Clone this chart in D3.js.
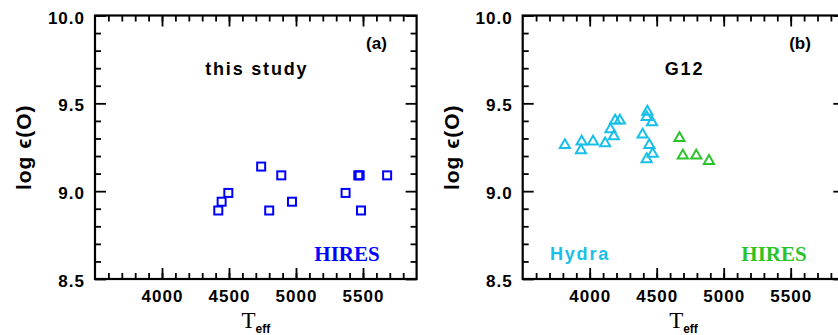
<!DOCTYPE html>
<html>
<head>
<meta charset="utf-8">
<script src="https://cdn.jsdelivr.net/npm/d3@7"></script>
<style>
body { margin: 0; background: #fff; }
svg { display: block; }
.tick text { font-family: "Liberation Sans", Arial, sans-serif; font-weight: bold; font-size: 17px; letter-spacing: 1px; fill: #000; }
.tick line { stroke: #000; stroke-width: 1.8; }
</style>
</head>
<body>
<script>
// panel (a): this study, HIRES
var hiresA_teff = [4420, 4445, 4495, 4740, 4800, 4890, 4970, 5370, 5465, 5475, 5485, 5680];
var hiresA_logO = [8.89, 8.94, 8.99, 9.14, 8.89, 9.09, 8.94, 8.99, 9.09, 9.09, 8.89, 9.09];

// panel (b): G12, Hydra + HIRES
var hydraB_teff = [3815, 3940, 3935, 4025, 4115, 4180, 4155, 4190, 4225, 4395, 4430, 4425, 4465, 4445, 4470, 4425];
var hydraB_logO = [9.27, 9.29, 9.24, 9.29, 9.28, 9.32, 9.36, 9.41, 9.41, 9.33, 9.46, 9.43, 9.40, 9.27, 9.22, 9.19];
var hiresB_teff = [4670, 4695, 4795, 4890];
var hiresB_logO = [9.31, 9.21, 9.21, 9.18];

// axes
var xDomain = [3500, 5900];
var yDomain = [8.5, 10.0];
var xMajor = [4000, 4500, 5000, 5500];
var xMinor = d3.range(3600, 5900, 100);
var yMajor = [8.5, 9.0, 9.5, 10.0];
var yMinor = [8.6, 8.7, 8.8, 8.9, 9.1, 9.2, 9.3, 9.4, 9.6, 9.7, 9.8, 9.9];

var blue = "#0000ff", cyan = "#18bfe8", green = "#2cc22c";

var svg = d3.select("body").append("svg")
    .attr("width", 838)
    .attr("height", 335);

var top_ = 15.5, bottom = 279, pw = 321.6;

function zip(xs, ys) {
    return xs.map(function (d, i) { return { t: d, o: ys[i] }; });
}

function drawPanel(left, label, tag, tagX) {
    var x = d3.scaleLinear().domain(xDomain).range([left, left + pw]);
    var y = d3.scaleLinear().domain(yDomain).range([bottom, top_]);
    var g = svg.append("g");

    // ticks, all pointing inward
    function ax(a, tr, vals, len, fmt, pad) {
        var s = g.append("g")
            .attr("transform", tr)
            .call(a.tickValues(vals).tickSize(-len).tickPadding(pad || 0).tickFormat(fmt || ""));
        s.select(".domain").remove();
        return s;
    }
    ax(d3.axisBottom(x), "translate(0," + bottom + ")", xMinor, 6);
    ax(d3.axisTop(x), "translate(0," + top_ + ")", xMinor, 6);
    ax(d3.axisLeft(y), "translate(" + left + ",0)", yMinor, 6);
    ax(d3.axisRight(y), "translate(" + (left + pw) + ",0)", yMinor, 6);
    ax(d3.axisTop(x), "translate(0," + top_ + ")", xMajor, 11);
    ax(d3.axisRight(y), "translate(" + (left + pw) + ",0)", yMajor, 11);
    ax(d3.axisBottom(x), "translate(0," + bottom + ")", xMajor, 11, d3.format("d"), 10)
        .selectAll("text").attr("dy", "0.75em");
    ax(d3.axisLeft(y), "translate(" + left + ",0)", yMajor, 11, d3.format(".1f"), 10)
        .selectAll("text").attr("dy", "0.45em");

    // frame
    g.append("rect")
        .attr("x", x(xDomain[0])).attr("y", y(yDomain[1]))
        .attr("width", x(xDomain[1]) - x(xDomain[0]))
        .attr("height", y(yDomain[0]) - y(yDomain[1]))
        .attr("fill", "none").attr("stroke", "#000").attr("stroke-width", 2.2);

    // y label
    g.append("text")
        .attr("transform", "translate(" + (left - 64) + "," + ((top_ + bottom) / 2) + ") rotate(-90)")
        .attr("text-anchor", "middle")
        .style("font-family", "'Liberation Sans', 'DejaVu Sans', Arial, sans-serif")
        .style("font-weight", "bold")
        .style("font-size", "21px")
        .style("letter-spacing", "1px")
        .text("log \u03F5(O)");

    // x label T_eff
    var xl = g.append("text")
        .attr("x", left + pw / 2)
        .attr("y", 327.5)
        .attr("text-anchor", "middle");
    xl.append("tspan")
        .style("font-family", "'Liberation Serif', 'Times New Roman', serif")
        .style("font-size", "23px")
        .text("T");
    xl.append("tspan")
        .attr("dy", 5)
        .style("font-family", "'Liberation Sans', Arial, sans-serif")
        .style("font-weight", "bold")
        .style("font-size", "12px")
        .text("eff");

    // panel tag
    g.append("text")
        .attr("x", tagX).attr("y", 49)
        .attr("text-anchor", "middle")
        .style("font-family", "'Liberation Sans', Arial, sans-serif")
        .style("font-weight", "bold")
        .style("font-size", "17px")
        .text(tag);

    // title
    g.append("text")
        .attr("x", left + pw / 2 + 1).attr("y", 74.5)
        .attr("text-anchor", "middle")
        .style("font-family", "'Liberation Sans', Arial, sans-serif")
        .style("font-weight", "bold")
        .style("font-size", "18px")
        .style("letter-spacing", "1.8px")
        .text(label);

    return { g: g, x: x, y: y };
}

// (a)
var pa = drawPanel(95, "this study", "(a)", 376.5);
pa.g.selectAll("rect.pt")
    .data(zip(hiresA_teff, hiresA_logO))
    .enter().append("rect")
    .attr("class", "pt")
    .attr("x", function (d) { return pa.x(d.t) - 4; })
    .attr("y", function (d) { return pa.y(d.o) - 4; })
    .attr("width", 8).attr("height", 8)
    .attr("fill", "none")
    .attr("stroke", blue)
    .attr("stroke-width", 2);

pa.g.append("text")
    .attr("x", 347).attr("y", 260.5)
    .attr("text-anchor", "middle")
    .style("font-family", "'Liberation Serif', 'Times New Roman', serif")
    .style("font-weight", "bold")
    .style("font-size", "21px")
    .style("fill", blue)
    .text("HIRES");

// (b)
var pb = drawPanel(522.7, "G12", "(b)", 800);
var tri = d3.symbol().type(d3.symbolTriangle).size(45);

function triangles(data, color) {
    pb.g.append("g").selectAll("path")
        .data(data)
        .enter().append("path")
        .attr("d", tri)
        .attr("transform", function (d) { return "translate(" + pb.x(d.t) + "," + (pb.y(d.o) + 1.4) + ")"; })
        .attr("fill", "none")
        .attr("stroke", color)
        .attr("stroke-width", 2)
        .attr("stroke-linejoin", "miter");
}
triangles(zip(hydraB_teff, hydraB_logO), cyan);
triangles(zip(hiresB_teff, hiresB_logO), green);

pb.g.append("text")
    .attr("x", 580).attr("y", 259.5)
    .attr("text-anchor", "middle")
    .style("font-family", "'Liberation Sans', Arial, sans-serif")
    .style("font-weight", "bold")
    .style("font-size", "18px")
    .style("letter-spacing", "1.8px")
    .style("fill", cyan)
    .text("Hydra");

pb.g.append("text")
    .attr("x", 774).attr("y", 260.5)
    .attr("text-anchor", "middle")
    .style("font-family", "'Liberation Serif', 'Times New Roman', serif")
    .style("font-weight", "bold")
    .style("font-size", "21px")
    .style("fill", green)
    .text("HIRES");
</script>
</body>
</html>
